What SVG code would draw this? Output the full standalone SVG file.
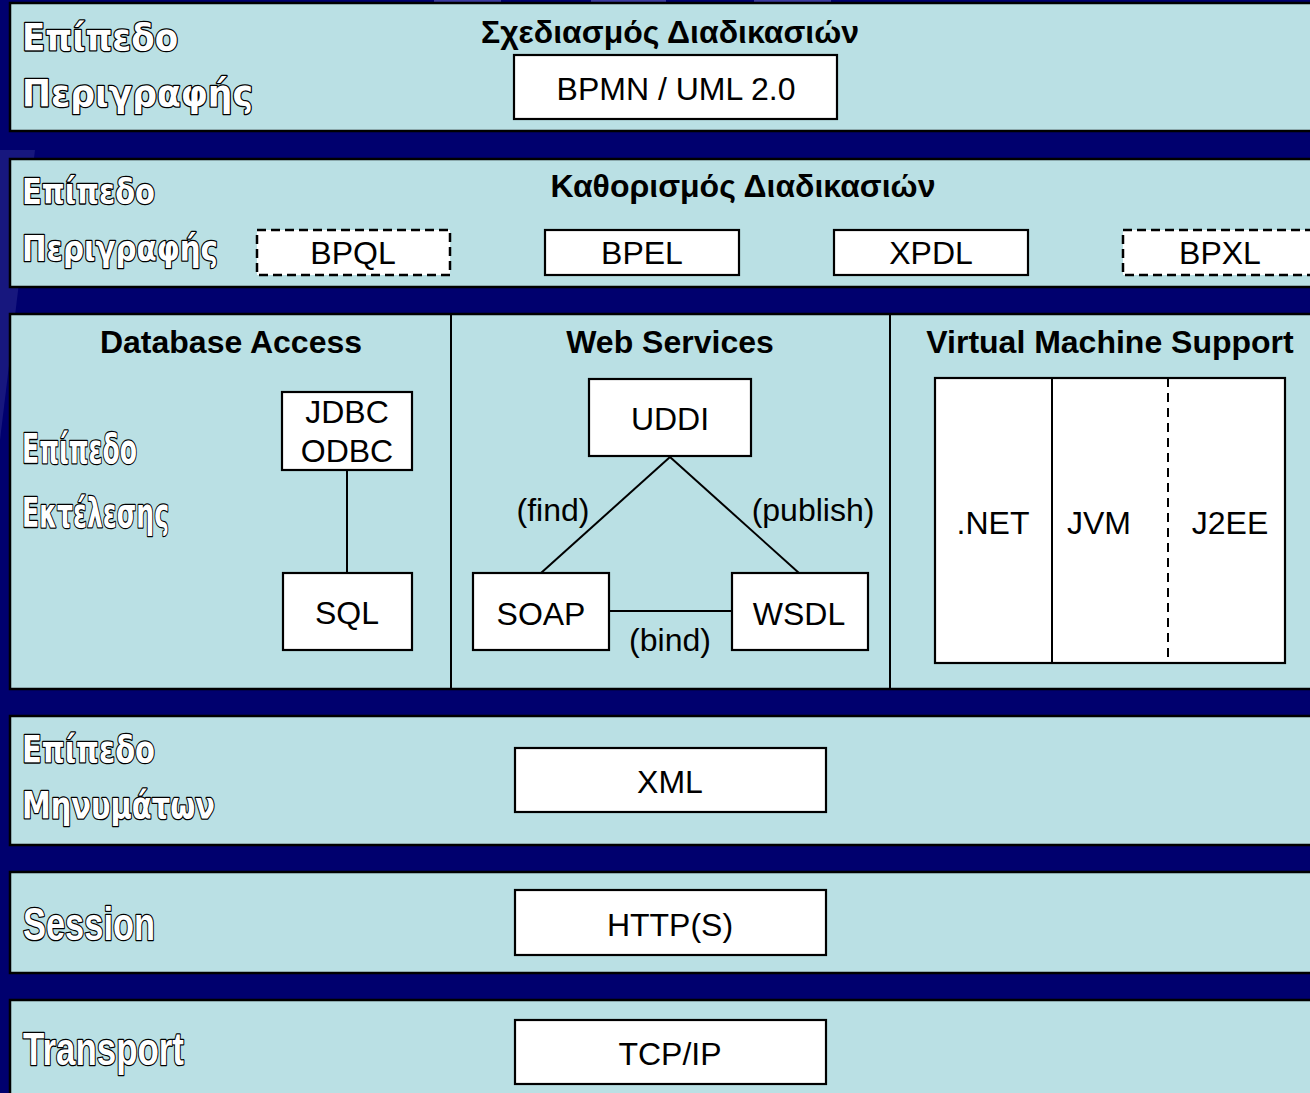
<svg xmlns="http://www.w3.org/2000/svg" width="1310" height="1093" viewBox="0 0 1310 1093">
  <style>
    .band { fill: #bae0e4; stroke: #000; stroke-width: 2.5; }
    .box { fill: #fff; stroke: #000; stroke-width: 2.2; }
    .dbox { fill: #fff; stroke: #000; stroke-width: 2.5; stroke-dasharray: 9 5; }
    .sep { stroke: #000; stroke-width: 2; fill: none; }
    .conn { stroke: #000; stroke-width: 2; fill: none; }
    .hdr { font-family: "Liberation Sans", Arial, sans-serif; font-weight: bold; font-size: 32px; fill: #000; text-anchor: middle; }
    .t { font-family: "Liberation Sans", Arial, sans-serif; font-size: 32px; fill: #000; text-anchor: middle; }
    .lbl { font-family: "DejaVu Sans", "Noto Sans", sans-serif; font-weight: bold; fill: #fff; stroke: #000; stroke-width: 2.6; paint-order: stroke; stroke-linejoin: round; }
    .lbl2 { font-family: "Liberation Sans", Arial, sans-serif; font-weight: bold; fill: #fff; stroke: #000; stroke-width: 2.6; paint-order: stroke; stroke-linejoin: round; }
  </style>

  <!-- backdrop -->
  <rect x="0" y="0" width="1310" height="1093" fill="#00006e"/>
  <polygon points="0,150 35,150 0,440" fill="#2a2a8c" opacity="0.55"/>
  <rect x="434" y="0" width="67" height="3" fill="#3c3ca0"/>
  <rect x="591" y="0" width="75" height="3" fill="#3c3ca0"/>
  <rect x="754" y="0" width="77" height="3" fill="#3c3ca0"/>

  <!-- layer bands -->
  <g id="layer-design">
    <rect class="band" x="10" y="3" width="1310" height="128"/>
    <text class="lbl" x="22" y="50" font-size="38" textLength="156" lengthAdjust="spacingAndGlyphs">Επίπεδο</text>
    <text class="lbl" x="22" y="106" font-size="38" textLength="231" lengthAdjust="spacingAndGlyphs">Περιγραφής</text>
    <text class="hdr" x="670" y="43">Σχεδιασμός Διαδικασιών</text>
  </g>
  <g id="node-bpmn">
    <rect class="box" x="514" y="55" width="323" height="64"/>
    <text class="t" x="676" y="100">BPMN / UML 2.0</text>
  </g>

  <g id="layer-definition">
    <rect class="band" x="10" y="159" width="1310" height="128"/>
    <text class="lbl" x="22" y="204" font-size="36" textLength="133" lengthAdjust="spacingAndGlyphs">Επίπεδο</text>
    <text class="lbl" x="22" y="261" font-size="36" textLength="196" lengthAdjust="spacingAndGlyphs">Περιγραφής</text>
    <text class="hdr" x="743" y="197">Καθορισμός Διαδικασιών</text>
  </g>
  <g id="node-bpql">
    <rect class="dbox" x="257" y="230" width="193" height="45"/>
    <text class="t" x="353" y="264">BPQL</text>
  </g>
  <g id="node-bpel">
    <rect class="box" x="545" y="230" width="194" height="45"/>
    <text class="t" x="642" y="264">BPEL</text>
  </g>
  <g id="node-xpdl">
    <rect class="box" x="834" y="230" width="194" height="45"/>
    <text class="t" x="931" y="264">XPDL</text>
  </g>
  <g id="node-bpxl">
    <rect class="dbox" x="1123" y="230" width="200" height="45"/>
    <text class="t" x="1220" y="264">BPXL</text>
  </g>

  <g id="layer-execution">
    <rect class="band" x="10" y="314" width="1310" height="375"/>
    <line class="sep" x1="451" y1="314" x2="451" y2="689"/>
    <line class="sep" x1="890" y1="314" x2="890" y2="689"/>
    <text class="lbl" x="22" y="463" font-size="40" textLength="115" lengthAdjust="spacingAndGlyphs">Επίπεδο</text>
    <text class="lbl" x="22" y="527" font-size="40" textLength="147" lengthAdjust="spacingAndGlyphs">Εκτέλεσης</text>
    <text class="hdr" x="231" y="353">Database Access</text>
    <text class="hdr" x="670" y="353">Web Services</text>
    <text class="hdr" x="1110" y="353">Virtual Machine Support</text>
  </g>

  <!-- connectors -->
  <g id="connectors">
    <line class="conn" x1="347" y1="470" x2="347" y2="573"/>
    <line class="conn" x1="670" y1="457" x2="541" y2="573"/>
    <line class="conn" x1="670" y1="457" x2="799" y2="573"/>
    <line class="conn" x1="609" y1="611" x2="732" y2="611"/>
    <text class="t" x="553" y="521">(find)</text>
    <text class="t" x="813" y="521">(publish)</text>
    <text class="t" x="670" y="651">(bind)</text>
  </g>

  <g id="node-jdbc">
    <rect class="box" x="282" y="392" width="130" height="78"/>
    <text class="t" x="347" y="423">JDBC</text>
    <text class="t" x="347" y="462">ODBC</text>
  </g>
  <g id="node-sql">
    <rect class="box" x="283" y="573" width="129" height="77"/>
    <text class="t" x="347" y="624">SQL</text>
  </g>
  <g id="node-uddi">
    <rect class="box" x="589" y="379" width="162" height="77"/>
    <text class="t" x="670" y="430">UDDI</text>
  </g>
  <g id="node-soap">
    <rect class="box" x="473" y="573" width="136" height="77"/>
    <text class="t" x="541" y="625">SOAP</text>
  </g>
  <g id="node-wsdl">
    <rect class="box" x="732" y="573" width="136" height="77"/>
    <text class="t" x="799" y="625">WSDL</text>
  </g>
  <g id="node-vm">
    <rect class="box" x="935" y="378" width="350" height="285"/>
    <line class="sep" x1="1052" y1="378" x2="1052" y2="663"/>
    <line class="sep" x1="1168" y1="378" x2="1168" y2="663" stroke-dasharray="9 6"/>
    <text class="t" x="993" y="534">.NET</text>
    <text class="t" x="1099" y="534">JVM</text>
    <text class="t" x="1230" y="534">J2EE</text>
  </g>

  <g id="layer-messages">
    <rect class="band" x="10" y="716" width="1310" height="129"/>
    <text class="lbl" x="22" y="762" font-size="38" textLength="133" lengthAdjust="spacingAndGlyphs">Επίπεδο</text>
    <text class="lbl" x="22" y="818" font-size="38" textLength="193" lengthAdjust="spacingAndGlyphs">Μηνυμάτων</text>
  </g>
  <g id="node-xml">
    <rect class="box" x="515" y="748" width="311" height="64"/>
    <text class="t" x="670" y="793">XML</text>
  </g>

  <g id="layer-session">
    <rect class="band" x="10" y="872" width="1310" height="101"/>
    <text class="lbl2" x="23" y="940" font-size="46" textLength="132" lengthAdjust="spacingAndGlyphs">Session</text>
  </g>
  <g id="node-http">
    <rect class="box" x="515" y="890" width="311" height="65"/>
    <text class="t" x="670" y="936">HTTP(S)</text>
  </g>

  <g id="layer-transport">
    <rect class="band" x="10" y="1000" width="1310" height="110"/>
    <text class="lbl2" x="23" y="1065" font-size="46" textLength="161" lengthAdjust="spacingAndGlyphs">Transport</text>
  </g>
  <g id="node-tcpip">
    <rect class="box" x="515" y="1020" width="311" height="64"/>
    <text class="t" x="670" y="1065">TCP/IP</text>
  </g>
</svg>
